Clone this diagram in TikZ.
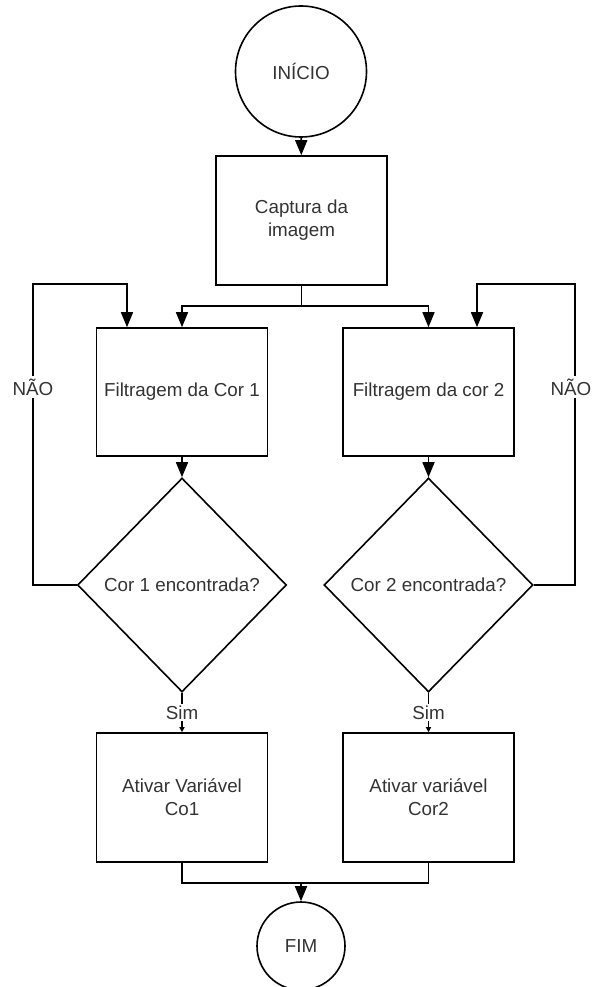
\documentclass[tikz,border=0pt]{standalone}
\usepackage{fontspec}
\setmainfont{Liberation Sans}
\usetikzlibrary{arrows.meta,shapes.geometric}
\definecolor{txt}{HTML}{333333}
\begin{document}
\begin{tikzpicture}[x=1pt,y=-1pt,
  base/.style={draw=black,line width=1.6pt,text=txt,align=center,inner sep=0pt,
    font=\fontsize{18.8}{23}\selectfont},
  term/.style={base,circle},
  proc/.style={base,rectangle,minimum width=171pt,minimum height=129pt},
  decision/.style={base,diamond,minimum width=209pt,minimum height=214pt},
  link/.style={draw=black,line width=1.6pt},
  arr/.style={link,-{Triangle[length=15pt,width=12pt]}},
  smallarr/.style={link,-{Triangle[length=5pt,width=5pt]}},
  lbl/.style={fill=white,text=txt,inner xsep=1pt,inner ysep=3pt,
    font=\fontsize{18.8}{23}\selectfont}]
\useasboundingbox (0,0) rectangle (593,987);

% terminals, steps and decisions
\node[term,minimum size=131pt] (ini) at (301,71.5) {INÍCIO};
\node[proc] (cap) at (301.5,220.5) {Captura da\\imagem};
\node[proc,minimum height=128pt] (f1) at (182,392) {Filtragem da Cor 1};
\node[proc,minimum height=128pt] (f2) at (428.5,392) {Filtragem da cor 2};
\node[decision] (d1) at (182,585) {Cor 1 encontrada?};
\node[decision] (d2) at (428.5,585) {Cor 2 encontrada?};
\node[proc] (a1) at (182,797.5) {Ativar Variável\\Co1};
\node[proc] (a2) at (428.5,797.5) {Ativar variável\\Cor2};
\node[term,minimum size=88pt] (fim) at (301,946) {FIM};

% start and split into the two colour branches
\draw[arr] (ini) -- (cap);
\coordinate (split) at (301.5,306);
\draw[link] (cap.south) -- (split);
\draw[arr] (split) -| (f1.north);
\draw[arr] (split) -| (f2.north);

% filtering feeds each decision
\draw[arr] (f1) -- (d1);
\draw[arr] (f2) -- (d2);

% "no" loops back to the filters
\coordinate (loopL) at (33,284);
\coordinate (loopR) at (575,284);
\draw[arr] (d1.west) -| (loopL) -| ([xshift=-55pt]f1.north);
\draw[arr] (d2.east) -| (loopR) -| ([xshift=48.5pt]f2.north);
\node[lbl] (naoL) at (33,387) {NÃO};
\node[lbl,anchor=east] (naoR) at (592.5,387) {NÃO};

% "yes" sets the flag variables
\draw[smallarr] (d1.south) -- node[lbl,inner ysep=2pt] (simL) {Sim} (a1.north);
\draw[smallarr] (d2.south) -- node[lbl,inner ysep=2pt] (simR) {Sim} (a2.north);

% merge into the end
\coordinate (merge) at (301,883);
\draw[link] (a1.south) |- (merge);
\draw[link] (a2.south) |- (merge);
\draw[arr] (merge) -- (fim.north);
\end{tikzpicture}
\end{document}
